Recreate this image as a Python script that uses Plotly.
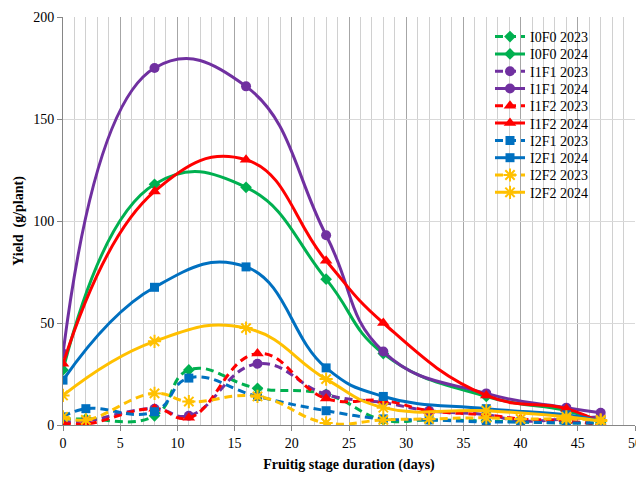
import plotly.graph_objects as go

days_2023 = [0, 2, 8, 11, 17, 23, 28, 32, 37, 40, 44, 47]
days_2024 = [0, 8, 16, 23, 28, 37, 44, 47]

I0F0_2023 = [3, 3, 4.5, 27, 18, 15, 2.5, 2.5, 2, 1.5, 1, 1]
I0F0_2024 = [27, 118, 116.5, 71.5, 35, 14, 7, 2]
I1F1_2023 = [1.5, 2, 8, 4.5, 30, 15, 11, 7, 5, 2, 3, 4]
I1F1_2024 = [35, 175, 166, 93, 36, 15.5, 8.5, 6]
I1F2_2023 = [1, 0.5, 8, 3.5, 35, 13, 12, 7, 5, 3, 2, 0]
I1F2_2024 = [30, 114.5, 130, 80.5, 50, 14.5, 8, 1]
I2F1_2023 = [4, 8, 6.5, 23, 14, 7, 3, 2.5, 1.5, 1.5, 1, 1]
I2F1_2024 = [22, 67.5, 77.5, 28, 14, 8, 5, 2]
I2F2_2023 = [4, 2.5, 15.5, 11.5, 14, 1, 2.5, 3, 3.5, 3, 3, 2.5]
I2F2_2024 = [14.5, 41, 47.5, 22.5, 8.5, 7, 4, 2]

series = [
    ("I0F0 2023", days_2023, I0F0_2023, "#00B050", "diamond", 9, True),
    ("I0F0 2024", days_2024, I0F0_2024, "#00B050", "diamond", 9, False),
    ("I1F1 2023", days_2023, I1F1_2023, "#7030A0", "circle", 10, True),
    ("I1F1 2024", days_2024, I1F1_2024, "#7030A0", "circle", 10, False),
    ("I1F2 2023", days_2023, I1F2_2023, "#FF0000", "triangle-up", 11, True),
    ("I1F2 2024", days_2024, I1F2_2024, "#FF0000", "triangle-up", 11, False),
    ("I2F1 2023", days_2023, I2F1_2023, "#0070C0", "square", 9, True),
    ("I2F1 2024", days_2024, I2F1_2024, "#0070C0", "square", 9, False),
    ("I2F2 2023", days_2023, I2F2_2023, "#FFC000", "asterisk-open", 11, True),
    ("I2F2 2024", days_2024, I2F2_2024, "#FFC000", "asterisk-open", 11, False),
]

FONT = "Liberation Serif, Times New Roman, serif"
OFF = 8  # page body margin
W, H = 644, 477 - OFF
ML, MT = 63 - OFF, 17 - OFF
MR = W - (635 - OFF)
MB = H - MT - 408
PW = W - ML - MR
PH = H - MT - MB


def px_x(page_x):
    return (page_x - OFF - ML) / PW


def px_y(page_y):
    return (H - MB - (page_y - OFF)) / PH


fig = go.Figure()
legends = {}
for i, (name, xs, ys, col, sym, size, dashed) in enumerate(series):
    lg = "legend" if i == 0 else f"legend{i + 1}"
    fig.add_trace(go.Scatter(
        x=xs, y=ys, name=name, mode="lines+markers", legend=lg,
        line=dict(color=col, width=3, shape="spline", smoothing=1.3,
                  dash="8px,5px" if dashed else "solid"),
        marker=dict(symbol=sym, size=size, color=col,
                    line=dict(color=col, width=2 if sym.startswith("asterisk") else 0)),
    ))
    cy = 37 + 17.3 * i
    legends[lg] = dict(x=px_x(490), xanchor="left", y=px_y(cy), yanchor="middle",
                       bgcolor="rgba(255,255,255,0)", borderwidth=0,
                       font=dict(family=FONT, size=14, color="black"),
                       itemwidth=30)

fig.add_shape(type="rect", xref="paper", yref="paper",
              x0=px_x(448), x1=px_x(632), y0=px_y(203), y1=px_y(27),
              fillcolor="white", line=dict(width=0), layer="below")

fig.update_layout(
    width=W, height=H,
    margin=dict(l=ML, r=MR, t=MT, b=MB, autoexpand=False),
    paper_bgcolor="white", plot_bgcolor="white",
    font=dict(family=FONT, size=14, color="black"),
    showlegend=True,
    xaxis=dict(range=[0, 50], dtick=5, tick0=0, automargin=False,
               ticklabeloverflow="allow",
               showgrid=True, gridcolor="#a6a6a6", gridwidth=1,
               minor=dict(dtick=1, showgrid=True, gridcolor="#d0d0d0", gridwidth=1),
               showline=True, linecolor="#868686", linewidth=1,
               ticks="outside", ticklen=5, tickcolor="#868686",
               zeroline=False, tickfont=dict(family=FONT, size=14),
               title=dict(text="<b>Fruitig stage duration (days)</b>",
                          font=dict(family=FONT, size=14), standoff=9)),
    yaxis=dict(range=[0, 200], dtick=50, tick0=0, automargin=False,
               showgrid=True, gridcolor="#d9d9d9", gridwidth=1,
               showline=True, linecolor="#868686", linewidth=1,
               ticks="outside", ticklen=5, tickcolor="#868686",
               zeroline=False, tickfont=dict(family=FONT, size=14),
               title=dict(text="<b>Yield  (g/plant)</b>",
                          font=dict(family=FONT, size=14), standoff=6)),
    **legends,
)

fig.write_html("out.html")
